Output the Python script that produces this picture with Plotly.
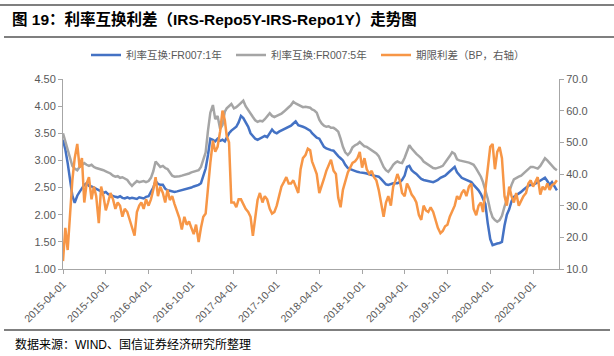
import plotly.graph_objects as go
import pandas as pd

# ---- sample dates: 1st, 11th, 21st of each month, 2015-04-01 .. 2021-01-11
months = pd.date_range("2015-04-01", "2021-01-01", freq="MS")
dates = [m + pd.Timedelta(days=d) for m in months for d in (0, 10, 20)][:-1]

# ---- 利率互换:FR007:1年 (%)
irs_1y = [
    # 2015 Apr-Dec
    3.38, 3.20, 2.95, 2.62, 2.35, 2.22, 2.35, 2.42, 2.48, 2.55, 2.58, 2.53,
    2.52, 2.50, 2.48, 2.45, 2.43, 2.40, 2.42, 2.38, 2.36, 2.35, 2.33, 2.32,
    2.34, 2.31, 2.30,
    # 2016
    2.32, 2.30, 2.31, 2.30, 2.29, 2.32, 2.31, 2.30, 2.33, 2.34, 2.42, 2.50,
    2.62, 2.57, 2.55, 2.55, 2.48, 2.45, 2.44, 2.43, 2.42, 2.43, 2.44, 2.45,
    2.46, 2.47, 2.48, 2.50, 2.52, 2.53, 2.55, 2.58, 2.70, 2.85, 3.10, 3.40,
    # 2017
    3.38, 3.35, 3.40, 3.36, 3.38, 3.35, 3.42, 3.50, 3.55, 3.58, 3.62, 3.70,
    3.82, 3.78, 3.70, 3.62, 3.50, 3.44, 3.40, 3.38, 3.40, 3.42, 3.45, 3.43,
    3.50, 3.57, 3.52, 3.50, 3.53, 3.55, 3.58, 3.60, 3.62, 3.64, 3.68, 3.72,
    # 2018
    3.65, 3.64, 3.62, 3.60, 3.58, 3.55, 3.50, 3.45, 3.42, 3.40, 3.33, 3.25,
    3.22, 3.20, 3.19, 3.18, 3.12, 3.08, 3.04, 3.00, 2.92, 2.86, 2.84, 2.82,
    2.80, 2.79, 2.78, 2.78, 2.77, 2.76, 2.74, 2.73, 2.72, 2.71, 2.70, 2.66,
    # 2019
    2.60, 2.56, 2.55, 2.57, 2.58, 2.58, 2.58, 2.60, 2.64, 2.72, 2.88, 2.90,
    2.82, 2.78, 2.75, 2.70, 2.66, 2.64, 2.63, 2.62, 2.61, 2.60, 2.62, 2.64,
    2.68, 2.70, 2.72, 2.76, 2.80, 2.85, 2.88, 2.78, 2.72, 2.68, 2.66, 2.64,
    # 2020
    2.62, 2.60, 2.55, 2.50, 2.45, 2.38, 2.30, 2.20, 1.85, 1.55, 1.44, 1.46,
    1.47, 1.48, 1.50, 1.80, 2.00, 2.10, 2.25, 2.33, 2.36, 2.38, 2.42, 2.46,
    2.50, 2.53, 2.55, 2.55, 2.57, 2.60, 2.62, 2.66, 2.68, 2.62, 2.55, 2.60,
    # 2021 Jan
    2.52, 2.45,
]

# ---- 利率互换:FR007:5年 (%)
irs_5y = [
    # 2015 Apr-Dec
    3.50, 3.35, 3.20, 3.05, 2.90, 2.85, 2.82, 2.88, 2.92, 2.95, 2.92, 2.90,
    2.92, 2.88, 2.86, 2.85, 2.84, 2.82, 2.80, 2.78, 2.76, 2.72, 2.70, 2.71,
    2.68, 2.69, 2.66,
    # 2016
    2.64, 2.58, 2.53, 2.58, 2.62, 2.60, 2.61, 2.62, 2.60, 2.62, 2.68, 2.80,
    2.98, 2.92, 2.88, 2.90, 2.86, 2.84, 2.78, 2.72, 2.70, 2.70, 2.71, 2.72,
    2.73, 2.75, 2.76, 2.78, 2.79, 2.80, 2.82, 2.88, 3.02, 3.15, 3.55, 3.88,
    # 2017
    4.02, 3.76, 3.82, 3.58, 3.65, 3.90, 3.96, 4.00, 4.04, 3.96, 3.98, 4.02,
    4.06, 4.10, 4.00, 3.92, 3.86, 3.80, 3.74, 3.71, 3.73, 3.72, 3.76, 3.82,
    3.87, 3.82, 3.80, 3.82, 3.84, 3.86, 3.90, 3.95, 3.98, 4.02, 4.08, 4.05,
    # 2018
    4.02, 4.00, 3.98, 3.99, 3.98, 3.97, 3.94, 3.92, 3.88, 3.75, 3.68, 3.64,
    3.62, 3.63, 3.60, 3.60, 3.57, 3.53, 3.40, 3.25, 3.15, 3.10, 3.15, 3.24,
    3.28, 3.30, 3.34, 3.30, 3.26, 3.25, 3.22, 3.18, 3.15, 3.13, 3.08, 2.98,
    # 2019
    2.88, 2.82, 2.79, 2.85, 2.92, 2.96, 2.98, 2.96, 2.95, 3.05, 3.18, 3.28,
    3.22, 3.16, 3.12, 3.08, 3.04, 2.98, 2.95, 2.92, 2.88, 2.86, 2.85, 2.86,
    2.88, 2.90, 2.95, 3.02, 3.08, 3.15, 3.12, 3.02, 3.00, 2.99, 2.98, 2.98,
    # 2020
    2.96, 2.94, 2.92, 2.85, 2.78, 2.70, 2.60, 2.45, 2.30, 2.08, 1.95, 1.90,
    1.87, 1.90, 1.98, 2.15, 2.30, 2.40, 2.55, 2.65, 2.68, 2.70, 2.72, 2.76,
    2.79, 2.84, 2.88, 2.88, 2.86, 2.85, 2.90, 2.98, 3.04, 3.00, 2.95, 2.90,
    # 2021 Jan
    2.85, 2.82,
]

# ---- 期限利差 (BP, 右轴)
spread_bp = [
    # 2015 Apr-Dec
    12.5, 23.0, 16.0, 27.5, 38.0, 45.0, 49.5, 42.0, 45.0, 31.0, 37.0, 39.0,
    32.0, 36.0, 33.0, 24.5, 36.0, 33.0, 28.5, 31.0, 34.0, 32.0, 29.0, 31.0,
    30.0, 26.5, 29.0,
    # 2016
    28.0, 25.5, 23.0, 20.5, 28.0, 30.0, 31.0, 29.0, 32.0, 30.0, 32.0, 35.0,
    39.0, 33.0, 36.0, 34.0, 31.0, 35.0, 31.8, 33.0, 30.5, 28.0, 26.0, 22.5,
    26.5, 24.0, 25.0, 23.0, 21.0, 24.0, 18.5, 23.0, 26.5, 27.5, 37.0, 43.5,
    # 2017
    50.5, 47.0, 48.6, 53.5, 60.0, 57.0, 52.0, 50.0, 31.0, 31.0, 29.5, 32.0,
    32.0, 30.5, 29.0, 28.0, 26.5, 20.5, 27.0, 31.8, 34.0, 31.0, 33.0, 32.0,
    29.0, 27.5, 28.0, 30.0, 33.0, 36.0, 37.5, 39.0, 37.0, 37.0, 38.0, 36.0,
    # 2018
    34.0, 41.5, 45.0, 46.0, 48.0, 47.5, 44.0, 42.0, 40.0, 34.0, 36.0, 38.5,
    41.0, 43.0, 44.5, 41.0, 40.0, 32.5, 29.5, 35.0, 38.0, 40.5, 42.0, 43.5,
    44.0, 45.0, 47.0, 42.0, 45.0, 41.5, 40.0, 41.0, 39.0, 38.0, 35.0, 31.0,
    # 2019
    26.5, 31.0, 33.0, 30.0, 36.0, 38.0, 40.0, 38.0, 34.0, 33.0, 37.0, 35.5,
    33.5, 32.5, 31.0, 27.0, 25.5, 30.0, 28.5, 28.0, 29.5, 28.0, 25.0, 23.0,
    21.3, 22.0, 23.5, 24.0, 26.5, 28.0, 30.0, 33.0, 32.0, 34.0, 35.0, 33.0,
    # 2020
    36.0, 37.0, 29.0, 27.0, 30.0, 31.0, 28.0, 35.0, 42.5, 48.6, 49.5, 41.5,
    47.0, 48.5, 45.0, 33.0, 30.0, 36.0, 33.0, 31.0, 34.0, 30.0, 31.5, 33.0,
    34.0, 37.0, 38.0, 36.0, 37.5, 39.0, 33.5, 36.0, 35.0, 37.0, 35.0, 36.5,
    # 2021 Jan
    37.0, 38.0,
]

n = min(len(dates), len(irs_1y), len(irs_5y), len(spread_bp))

tick_dates = pd.date_range("2015-04-01", "2020-10-01", freq="6MS")
tick_labels = [d.strftime("%Y-%m-%d") for d in tick_dates]
left_ticks = [1.0, 1.5, 2.0, 2.5, 3.0, 3.5, 4.0, 4.5]
right_ticks = [10, 20, 30, 40, 50, 60, 70]

series_names = ["利率互换:FR007:1年", "利率互换:FR007:5年", "期限利差（BP，右轴）"]
colors = ["#4472C4", "#A5A5A5", "#F79646"]

FONT = "Liberation Sans, Arial, Noto Sans CJK SC, sans-serif"
TXT = "#595959"
AXC = "#A6A6A6"

fig = go.Figure()
fig.add_trace(go.Scatter(x=dates[:n], y=irs_1y[:n], name=series_names[0], mode="lines",
                         line=dict(color=colors[0], width=2.5)))
fig.add_trace(go.Scatter(x=dates[:n], y=irs_5y[:n], name=series_names[1], mode="lines",
                         line=dict(color=colors[1], width=2.5)))
fig.add_trace(go.Scatter(x=dates[:n], y=spread_bp[:n], name=series_names[2], mode="lines",
                         yaxis="y2", line=dict(color=colors[2], width=2.5)))

W, H = 614, 356
L, R, T, B = 63, 55, 79, 87
pw, ph = W - L - R, H - T - B

def px_x(x):
    return (x - L) / pw

def px_y(y):
    return (H - B - y) / ph

fig.update_layout(
    width=W, height=H,
    margin=dict(l=L, r=R, t=T, b=B),
    paper_bgcolor="white", plot_bgcolor="white",
    font=dict(family=FONT, color=TXT, size=11),
    title=dict(text="<b>图 19：利率互换利差（IRS-Repo5Y-IRS-Repo1Y）走势图</b>",
               x=12 / W, xanchor="left", y=1 - 20 / H, yanchor="middle",
               font=dict(family=FONT, size=15.5, color="black")),
    showlegend=True,
    legend=dict(orientation="h", x=px_x(86), xanchor="left", y=px_y(55), yanchor="middle",
                font=dict(family=FONT, size=10.5, color=TXT),
                entrywidth=100, entrywidthmode="pixels", bgcolor="rgba(0,0,0,0)"),
    xaxis=dict(type="date", range=["2015-04-01", "2021-01-20"],
               tickvals=list(tick_dates), ticktext=tick_labels, tickangle=-45,
               showgrid=False, zeroline=False, showline=True, linecolor=AXC, linewidth=1,
               ticks="outside", ticklen=4, tickcolor=AXC,
               tickfont=dict(size=10.5, color=TXT)),
    yaxis=dict(range=[1.0, 4.5], tickvals=left_ticks,
               ticktext=[f"{v:.2f}" for v in left_ticks],
               showgrid=False, zeroline=False, showline=True, linecolor=AXC, linewidth=1,
               ticks="outside", ticklen=4, tickcolor=AXC,
               tickfont=dict(size=11, color=TXT)),
    yaxis2=dict(range=[10, 70], tickvals=right_ticks,
                ticktext=[f"{v:.1f}" for v in right_ticks],
                overlaying="y", side="right",
                showgrid=False, zeroline=False, showline=True, linecolor=AXC, linewidth=1,
                ticks="outside", ticklen=4, tickcolor=AXC,
                tickfont=dict(size=11, color=TXT)),
    shapes=[
        dict(type="line", xref="paper", yref="paper", x0=px_x(0), x1=px_x(W),
             y0=px_y(5), y1=px_y(5), line=dict(color="black", width=1.2)),
        dict(type="line", xref="paper", yref="paper", x0=px_x(4), x1=px_x(W),
             y0=px_y(37), y1=px_y(37), line=dict(color="black", width=1.2)),
        dict(type="line", xref="paper", yref="paper", x0=px_x(4), x1=px_x(610),
             y0=px_y(330), y1=px_y(330), line=dict(color="black", width=1.2)),
    ],
    annotations=[
        dict(text="数据来源：WIND、国信证券经济研究所整理", xref="paper", yref="paper",
             x=px_x(13), y=px_y(344), xanchor="left", yanchor="middle", showarrow=False,
             font=dict(family=FONT, size=12, color="black")),
    ],
)

fig.write_html("out.html", config={"displayModeBar": False},
               post_script="document.body.style.margin='0';")
